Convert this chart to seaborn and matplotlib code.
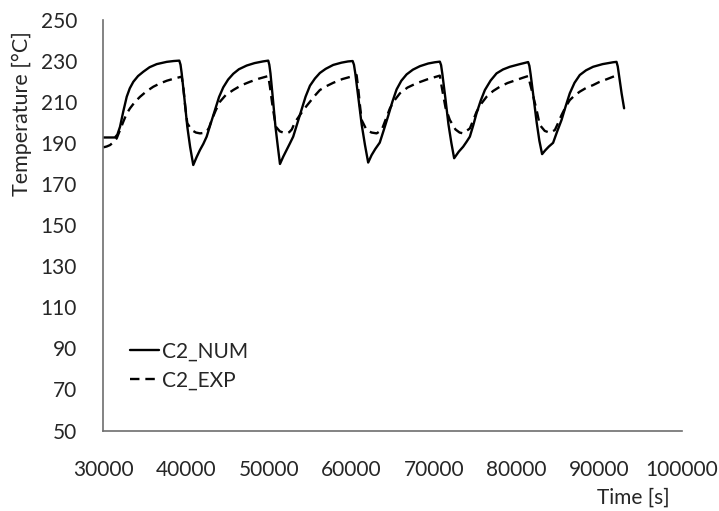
import matplotlib
matplotlib.use("Agg")
import matplotlib.pyplot as plt
from matplotlib.ticker import MultipleLocator
import pandas as pd
import seaborn as sns

# Numerical prediction, sensor C2
num_time = [30000, 31400, 31700, 32020, 32400, 32830, 33200, 33630, 34200, 34840, 35600, 36460,
            37670, 38500, 39190,
            39340, 39480, 39800, 40160, 40500, 40880,
            41280, 41690, 42100, 42500, 43000, 43510, 44000, 44510, 45100, 45720, 46400, 47340,
            48300, 49300, 49950,
            50080, 50220, 50500, 50820, 51100, 51370,
            51770, 52170, 52570, 52970, 53470, 53970, 54470, 55000, 55600, 56200, 56900, 57810,
            58800, 59600, 60160,
            60320, 60480, 60850, 61250, 61650, 62040,
            62450, 62900, 63440, 63950, 64460, 64970, 65480, 66050, 66690, 67450, 68300, 69300,
            70100, 70710,
            70860, 71010, 71370, 71750, 72100, 72440,
            73000, 73530, 73940, 74340, 74750, 75150, 75650, 76160, 76850, 77570, 78350, 79180,
            80390, 81000, 81390,
            81540, 81690, 82050, 82420, 82750, 83080,
            83450, 83900, 84410, 84900, 85430, 85930, 86430, 87000, 87640, 88400, 89250, 90400,
            91670, 92080,
            92230, 92380, 92700, 93000]
num_temp = [192.6, 192.6, 194.0, 197.8, 205.0, 212.4, 216.5, 219.7, 222.5, 224.6, 226.8, 228.3,
            229.4, 229.8, 230.0,
            228.0, 223.8, 212.0, 197.8, 188.0, 179.2,
            183.0, 186.5, 189.5, 193.0, 199.5, 206.0, 212.3, 217.0, 220.8, 223.6, 225.8, 227.6,
            228.8, 229.6, 230.0,
            228.0, 223.8, 212.0, 198.0, 188.5, 179.7,
            183.3, 186.5, 189.7, 193.0, 199.5, 206.0, 212.5, 217.8, 221.3, 224.0, 226.0, 227.9,
            229.0, 229.6, 229.8,
            228.0, 223.8, 212.0, 199.0, 189.0, 180.4,
            184.0, 187.0, 190.1, 196.5, 203.1, 210.0, 216.0, 220.2, 223.3, 225.6, 227.3, 228.6,
            229.2, 229.5,
            227.8, 223.6, 212.0, 199.0, 190.0, 182.5,
            185.7, 188.1, 190.5, 193.0, 198.5, 204.4, 210.5, 215.7, 220.3, 223.8, 225.7, 227.0,
            228.3, 228.9, 229.3,
            227.5, 223.4, 212.0, 200.0, 191.0, 184.5,
            186.3, 188.2, 190.0, 195.5, 201.1, 207.8, 214.1, 219.2, 223.0, 225.3, 227.0, 228.3,
            229.2, 229.4,
            227.2, 223.0, 214.0, 206.8]

# Measured temperature, sensor C2
exp_time = [30000, 30400, 30810, 31200, 31620, 32000, 32420, 32800, 33230, 33800, 34440, 35200,
            36050, 36800, 37670, 38600, 39480,
            39670, 39900, 40160, 40690, 41200, 41690, 42100, 42500, 42800, 43110, 43600, 44110,
            44800, 45720, 46700, 47740, 48800, 49950,
            50150, 50500, 50880, 51350, 51750, 52180, 52500, 52800, 53180, 53780, 54400, 55000,
            55600, 56200, 57000, 57810, 58900, 60230, 60640,
            60850, 61050, 61250, 61850, 62450, 63060, 63670, 64170, 64670, 65250, 65880, 66800,
            67900, 69200, 70710,
            70900, 71400, 71920, 72600, 73100, 73530, 74340, 74750, 75150, 75750, 76360, 77150,
            77970, 78900, 79990, 80700, 81390,
            81800, 82410, 82800, 83400, 84010, 84620, 85000, 85430, 85930, 86430, 87000, 87640,
            88400, 89250, 90000, 90870, 91880]
exp_temp = [187.8, 188.2, 188.9, 190.2, 192.2, 196.0, 200.3, 204.0, 206.8, 209.8, 212.4, 215.0,
            217.3, 218.8, 220.2, 221.3, 222.2,
            217.3, 208.0, 199.5, 196.2, 195.0, 194.6, 194.8, 195.4, 197.5, 201.1, 205.8, 210.0,
            213.2, 215.7, 218.0, 219.7, 221.2, 222.5,
            217.5, 207.0, 197.8, 195.6, 195.0, 194.6, 195.2, 196.5, 200.0, 203.5, 207.0, 210.0,
            213.0, 215.7, 217.6, 219.2, 221.0, 222.5, 223.0,
            216.0, 208.0, 201.1, 196.2, 195.0, 194.6, 196.2, 201.5, 206.8, 210.8, 214.1, 216.9,
            219.0, 220.9, 222.7,
            218.0, 207.0, 201.1, 196.5, 195.0, 194.6, 197.0, 201.0, 205.1, 209.2, 212.4, 215.2,
            217.3, 219.1, 220.6, 221.6, 222.5,
            216.0, 206.0, 198.7, 195.8, 194.9, 196.2, 199.5, 203.5, 207.5, 210.8, 213.0, 214.9,
            216.7, 218.1, 219.6, 220.9, 222.5]

series_labels = ["C2_NUM", "C2_EXP"]
x_ticks = [30000, 40000, 50000, 60000, 70000, 80000, 90000, 100000]
y_ticks = [50, 70, 90, 110, 130, 150, 170, 190, 210, 230, 250]

df = pd.concat([
    pd.DataFrame({"time": num_time, "temp": num_temp, "series": series_labels[0]}),
    pd.DataFrame({"time": exp_time, "temp": exp_temp, "series": series_labels[1]}),
], ignore_index=True)

sns.set_style("white")
plt.rcParams["font.family"] = ["Lato", "DejaVu Sans"]

text_color = "#262626"
axis_color = "#6e6e6e"

fig = plt.figure(figsize=(7.19, 5.11), dpi=100)
ax = fig.add_axes([0.1437, 0.1575, 0.8048, 0.8043])

sns.lineplot(data=df, x="time", y="temp", style="series",
             style_order=series_labels,
             dashes={series_labels[0]: "", series_labels[1]: (4, 2.5)},
             color="black", linewidth=1.7, sort=False, estimator=None, ax=ax)
for line in ax.get_lines():
    line.set_solid_joinstyle("round")
    line.set_dash_joinstyle("round")

ax.set_xlim(30000, 100000)
ax.set_ylim(50, 250)
ax.set_xticks(x_ticks)
ax.set_yticks(y_ticks)
ax.xaxis.set_minor_locator(MultipleLocator(2000))
ax.yaxis.set_minor_locator(MultipleLocator(4))

for side in ("top", "right"):
    ax.spines[side].set_visible(False)
for side in ("left", "bottom"):
    ax.spines[side].set_color(axis_color)
    ax.spines[side].set_linewidth(1.2)

ax.tick_params(axis="both", which="major", direction="inout", length=11,
               width=1.2, color=axis_color, labelcolor=text_color)
ax.tick_params(axis="both", which="minor", direction="in", length=5,
               width=1.0, color=axis_color)
ax.tick_params(axis="x", which="major", labelsize=15, pad=16)
ax.tick_params(axis="y", which="major", labelsize=15, pad=13.5)

ax.set_xlabel("")
ax.set_ylabel("")
fig.text(0.932, 0.027, "Time [s]", ha="right", va="center",
         fontsize=15, color=text_color)
fig.text(0.031, 0.777, "Temperature [°C]", ha="center", va="center",
         rotation=90, fontsize=15.5, color=text_color)

leg = ax.legend(loc="center left", bbox_to_anchor=(0.046, 0.157),
                frameon=False, fontsize=15, handlelength=1.4,
                handletextpad=0.15, labelspacing=0.45, borderpad=0,
                borderaxespad=0)
for txt in leg.get_texts():
    txt.set_color(text_color)
for line in leg.get_lines():
    line.set_linewidth(1.7)

fig.savefig("out.png", dpi=100, facecolor="white")
